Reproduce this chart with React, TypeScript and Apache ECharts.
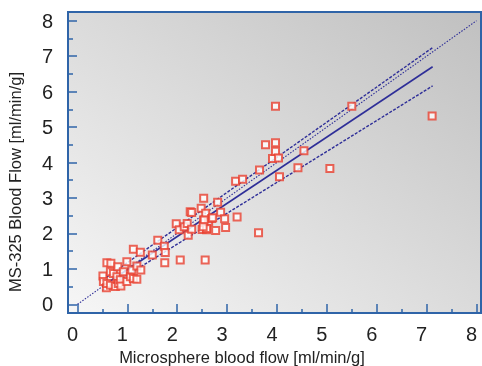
import React, { useEffect, useRef } from "react";
import * as echarts from "echarts";

const microsphere = [
  0.51, 0.52, 0.58, 0.59, 0.59, 0.66, 0.66, 0.67, 0.72, 0.76, 0.79, 0.81, 0.82, 0.86, 0.87, 0.92,
  0.99, 0.99, 1.06, 1.09, 1.12, 1.19, 1.19, 1.27, 1.12, 1.26, 1.5, 1.61, 1.74, 1.76, 1.75,
  1.98, 2.04, 2.06, 2.14, 2.2, 2.22, 2.26, 2.29, 2.29, 2.48, 2.5, 2.53, 2.53, 2.56, 2.57, 2.59,
  2.63, 2.69, 2.77, 2.81, 2.87, 2.95, 2.97, 3.17, 3.2, 3.31, 3.63, 3.65, 3.77, 3.91, 3.97, 3.97,
  3.97, 4.03, 4.05, 4.42, 4.54, 5.06, 5.5, 7.11, 2.54, 2.71, 2.59, 2.52
];
const ms325 = [
  0.8, 0.64, 0.47, 0.59, 1.17, 0.54, 0.92, 1.16, 0.87, 0.5, 0.78, 1.06, 0.59, 0.69, 0.52, 0.92,
  0.64, 1.2, 0.78, 0.97, 0.73, 0.71, 1.08, 0.97, 1.55, 1.47, 1.39, 1.81, 1.64, 1.46, 1.17,
  2.27, 2.1, 1.25, 2.19, 2.28, 1.95, 2.61, 2.59, 2.12, 2.71, 2.11, 2.99, 2.38, 1.25, 2.57, 2.1,
  2.33, 2.42, 2.08, 2.88, 2.6, 2.41, 2.17, 3.47, 2.46, 3.53, 2.02, 3.79, 4.5, 4.11, 4.32, 4.56,
  5.59, 4.13, 3.6, 3.85, 4.33, 3.83, 5.59, 5.31, 2.38, 2.44, 2.14, 2.19
];

const fitX = [0.5, 7.12];
const fitY = [0.51, 6.7];
const upperY = [0.68, 7.24];
const lowerY = [0.39, 6.16];
const identity = [0, 8];

const majorTicks = [0, 1, 2, 3, 4, 5, 6, 7, 8];
const minorTicks = [0.5, 1.5, 2.5, 3.5, 4.5, 5.5, 6.5, 7.5];

const xTitle = "Microsphere blood flow [ml/min/g]";
const yTitle = "MS-325 Blood Flow [ml/min/g]";

const FONT = "'Liberation Sans', Arial, Helvetica, sans-serif";
const BLUE = "#2f64a8";
const NAVY = "#2e2e98";

export default function App() {
  const ref = useRef<HTMLDivElement>(null);
  useEffect(() => {
    if (!ref.current) return;
    const chart = echarts.init(ref.current, null, { renderer: "svg" });
    const points = microsphere.map((x, i) => [x, ms325[i]]);
    const xMin = -0.19, xMax = 8.09, yMin = -0.245, yMax = 8.245;
    const baseX = {
      type: "value",
      min: xMin,
      max: xMax,
      position: "bottom",
      axisLine: { show: false, onZero: false },
      splitLine: { show: false },
    };
    const baseY = {
      type: "value",
      min: yMin,
      max: yMax,
      position: "left",
      axisLine: { show: false, onZero: false },
      splitLine: { show: false },
    };
    const lineSeries = (data: number[][], type: any, width: number) => ({
      type: "line",
      data,
      symbol: "none",
      silent: true,
      lineStyle: { color: NAVY, width, type },
      z: 2,
    });
    chart.setOption({
      animation: false,
      grid: {
        left: 68,
        top: 12,
        right: 1,
        bottom: 53,
        show: true,
        borderColor: BLUE,
        borderWidth: 2,
        backgroundColor: new echarts.graphic.LinearGradient(0, 1, 1, 0, [
          { offset: 0, color: "#f6f6f6" },
          { offset: 1, color: "#c0c0c0" },
        ]),
      },
      xAxis: [
        {
          ...baseX,
          axisTick: { show: true, inside: true, length: 9, customValues: majorTicks, lineStyle: { color: BLUE, width: 1.5 } },
          axisLabel: {
            show: true,
            customValues: majorTicks,
            margin: 11,
            fontSize: 20,
            fontFamily: FONT,
            color: "#222",
            padding: [0, 10, 0, 0],
          },
        },
        {
          ...baseX,
          axisTick: { show: true, inside: true, length: 4, customValues: minorTicks, lineStyle: { color: BLUE, width: 1.5 } },
          axisLabel: { show: false },
        },
      ],
      yAxis: [
        {
          ...baseY,
          axisTick: { show: true, inside: true, length: 9, customValues: majorTicks, lineStyle: { color: BLUE, width: 1.5 } },
          axisLabel: {
            show: true,
            customValues: majorTicks,
            margin: 15,
            fontSize: 20,
            fontFamily: FONT,
            color: "#222",
            padding: [6, 0, 0, 0],
          },
        },
        {
          ...baseY,
          axisTick: { show: true, inside: true, length: 5, customValues: minorTicks, lineStyle: { color: BLUE, width: 1.5 } },
          axisLabel: { show: false },
        },
      ],
      graphic: [
        {
          type: "text",
          x: 242,
          y: 357,
          style: {
            text: xTitle,
            fontSize: 16.5,
            fontFamily: FONT,
            fill: "#222",
            align: "center",
            verticalAlign: "middle",
          },
        },
        {
          type: "text",
          x: 15,
          y: 182,
          rotation: Math.PI / 2,
          style: {
            text: yTitle,
            fontSize: 16.5,
            fontFamily: FONT,
            fill: "#222",
            align: "center",
            verticalAlign: "middle",
          },
        },
      ],
      series: [
        lineSeries(identity.map((v) => [v, v]), [1.5, 1.5], 1.1),
        lineSeries(fitX.map((x, i) => [x, upperY[i]]), [3, 1.5], 1.4),
        lineSeries(fitX.map((x, i) => [x, lowerY[i]]), [3, 1.5], 1.4),
        lineSeries(fitX.map((x, i) => [x, fitY[i]]), "solid", 1.6),
        {
          type: "scatter",
          data: points,
          symbol: "rect",
          symbolSize: 7,
          itemStyle: { color: "#ffffff", borderColor: "#e8402f", borderWidth: 2 },
          z: 3,
        },
      ],
    });
    return () => chart.dispose();
  }, []);
  return (
    <div
      ref={ref}
      style={{ position: "fixed", left: 0, top: 0, width: 482, height: 366 }}
    />
  );
}
